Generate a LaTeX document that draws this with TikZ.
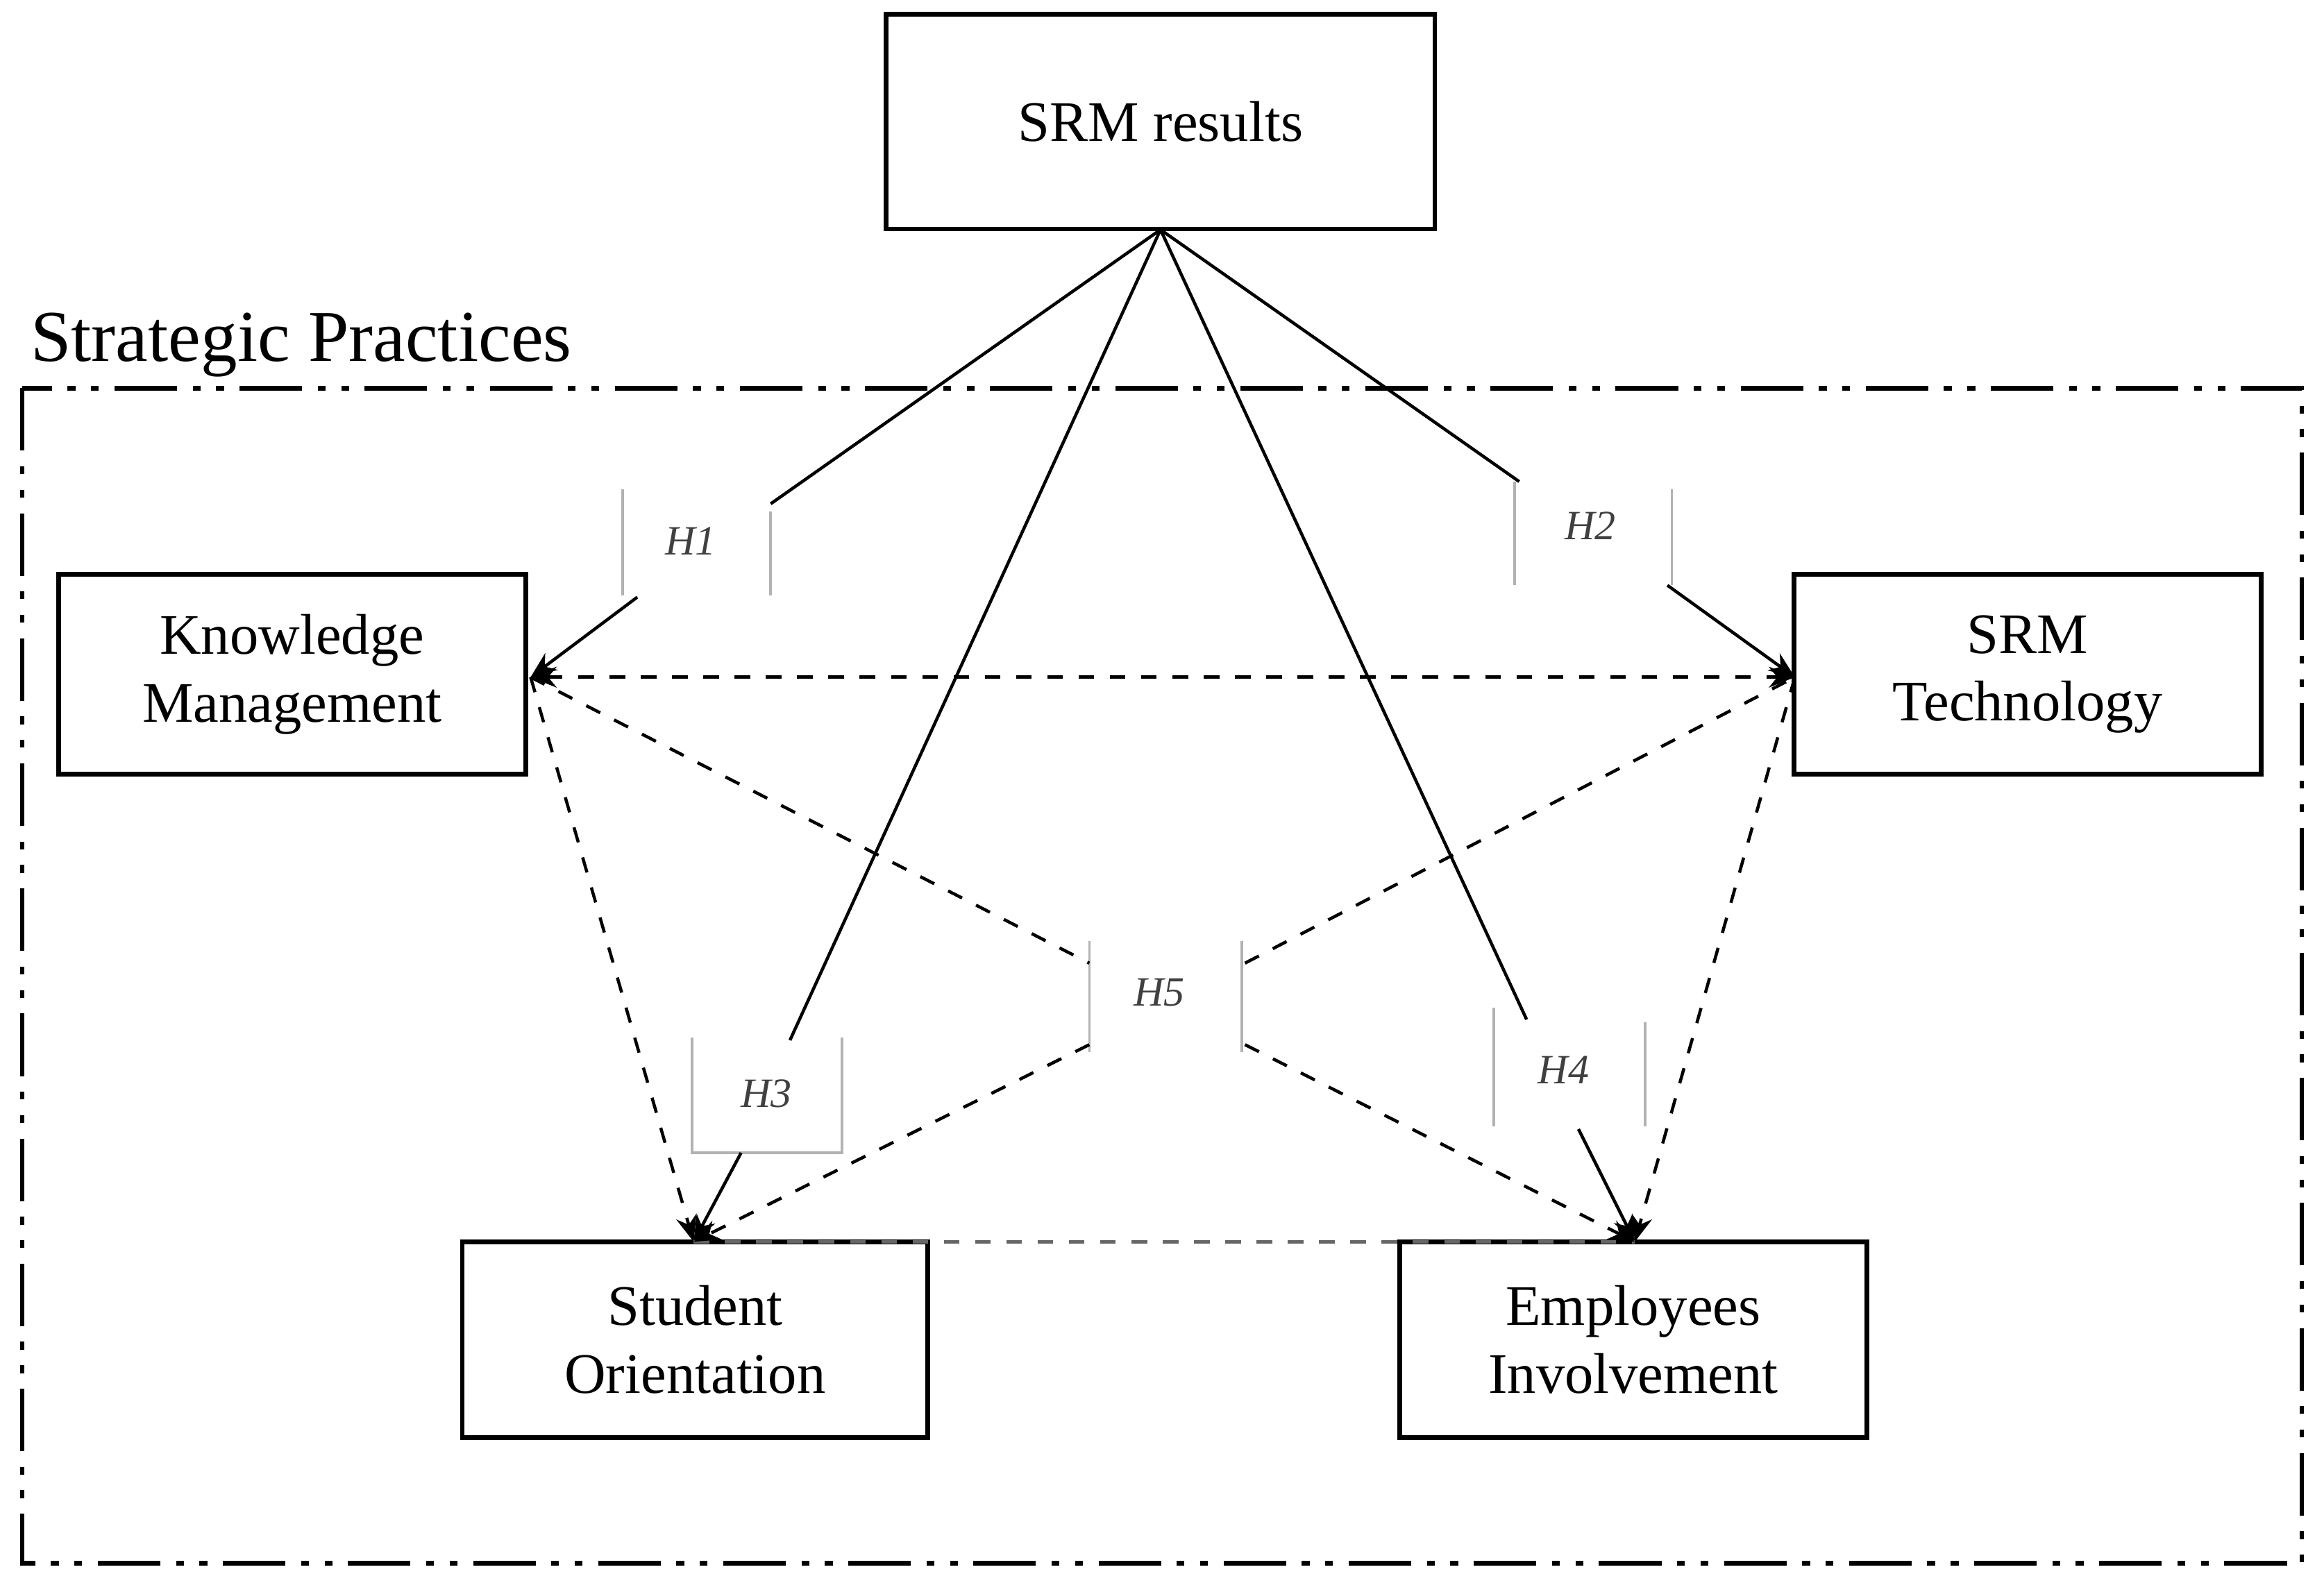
\documentclass[tikz,border=0pt]{standalone}
\usepackage{fontspec}
\setmainfont{Liberation Serif}
\usetikzlibrary{arrows.meta}
\begin{document}
\begin{tikzpicture}[x=0.01cm,y=-0.01cm,
  box/.style={draw,line width=0.9pt,align=center,font=\fontsize{11}{13}\selectfont},
  hyp/.style={font=\fontsize{8}{9}\selectfont\itshape,text=black!75},
  side/.style={draw=black!30,line width=0.5pt},
  sol/.style={line width=0.6pt},
  dsh/.style={line width=0.6pt,dashed},
  arr/.style={-{Stealth[length=5pt,width=4pt]}}]
\useasboundingbox (0,0) rectangle (1568,1068);
\node[box,minimum width=3.7cm,minimum height=1.45cm] (srm) at (783,82) {SRM results};
\node[box,minimum width=3.15cm,minimum height=1.35cm] (km) at (197,455) {Knowledge\\Management};
\node[box,minimum width=3.15cm,minimum height=1.35cm] (tech) at (1368,455) {SRM\\Technology};
\node[box,minimum width=3.14cm,minimum height=1.32cm] (so) at (469,904) {Student\\Orientation};
\node[box,minimum width=3.15cm,minimum height=1.32cm] (ei) at (1102,904) {Employees\\Involvement};
\draw[line width=0.9pt,dash pattern=on 12pt off 3pt on 1.5pt off 3pt on 1.5pt off 3pt] (15,262) rectangle (1553,1055);
\node[anchor=south west,font=\fontsize{14}{16}\selectfont,inner sep=0pt] (sp) at (20,255) {Strategic Practices};
% hypothesis labels
\node[hyp] (h1) at (466,365) {H1};
\node[hyp] (h2) at (1073,355) {H2};
\node[hyp] (h3) at (517,738) {H3};
\node[hyp] (h4) at (1055,722) {H4};
\node[hyp] (h5) at (782,670) {H5};
\draw[side] (420,330) -- (420,402) (520,345) -- (520,402);
\draw[side] (1022,325) -- (1022,395) (1128,330) -- (1128,395);
\draw[side] (467,700) -- (467,778) -- (568,778) -- (568,700);
\draw[side] (1008,680) -- (1008,760) (1110,690) -- (1110,760);
\draw[side] (735,635) -- (735,710) (838,635) -- (838,710);
% coordinates
\coordinate (top) at (783,155);
\coordinate (kmr) at (358,457);
\coordinate (tl) at (1211,457);
\coordinate (sot) at (468,838);
\coordinate (eit) at (1103,838);
% solid lines
\draw[sol] (top) -- (520,340); \draw[sol,arr] (430,403) -- (kmr);
\draw[sol] (top) -- (1025,325); \draw[sol,arr] (1125,395) -- (tl);
\draw[sol] (top) -- (533,702); \draw[sol,arr] (500,778) -- (sot);
\draw[sol] (top) -- (1030,688); \draw[sol,arr] (1065,762) -- (eit);
% dashed
\draw[dsh,{Stealth[length=5pt,width=4pt]}-{Stealth[length=5pt,width=4pt]}] (kmr) -- (tl);
\draw[dsh,arr] (kmr) -- (sot);
\draw[dsh,arr] (tl) -- (eit);
\draw[dsh,draw=black!60] (sot) -- (eit);
\draw[dsh] (kmr) -- (735,650);
\draw[dsh] (840,650) -- (tl);
\draw[dsh,arr] (735,705) -- (sot);
\draw[dsh,arr] (840,705) -- (eit);
\end{tikzpicture}
\end{document}
